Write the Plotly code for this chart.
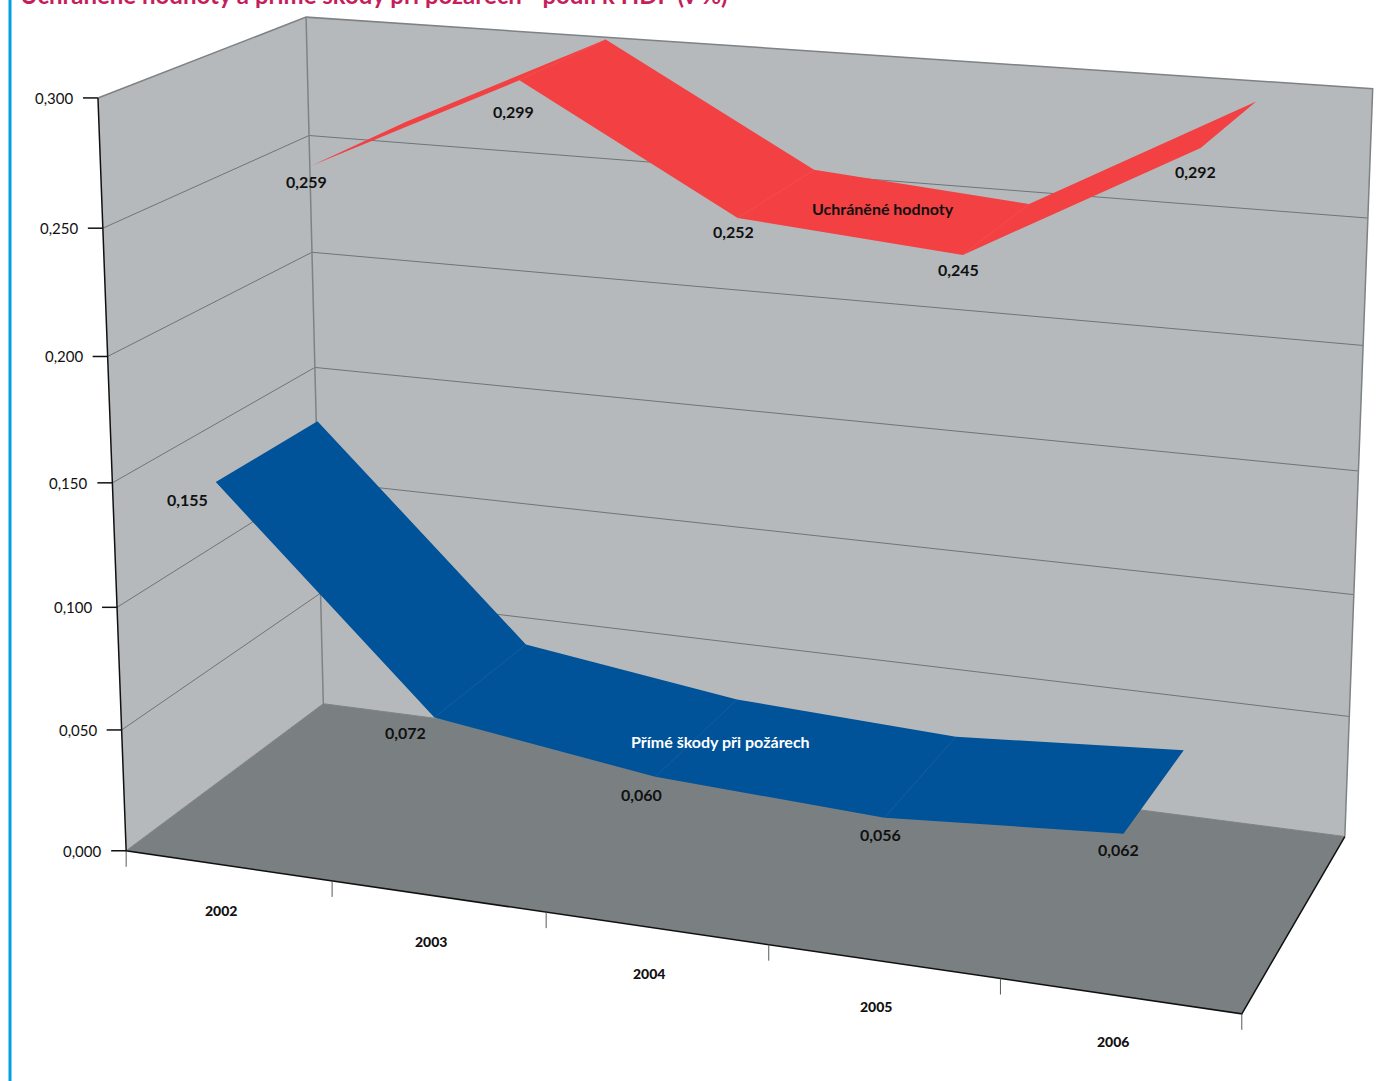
import numpy as np
import plotly.graph_objects as go

# ---- data
years = ["2002", "2003", "2004", "2005", "2006"]
saved = [0.259, 0.299, 0.252, 0.245, 0.292]
damage = [0.155, 0.072, 0.060, 0.056, 0.062]
z_ticks = [0.0, 0.05, 0.10, 0.15, 0.20, 0.25, 0.30]
saved_name = "Uchráněné hodnoty"
damage_name = "Přímé škody při požárech"
title = "Uchráněné hodnoty a přímé škody při požárech - podíl k HDP (v %)"

# ---- style: label offsets (px) from the front edge of each ribbon point
saved_shift = [(-5, 16), (-6, 31), (-4, 14), (-4, 15), (-5, 23)]
damage_shift = [(-28, 17), (-29, 15), (-14, 18), (-4, 17), (-5, 16)]

W, H = 1391, 1081
WALL, FLOOR, GRID, EDGE = "#b5b9bc", "#7a8082", "#6f7477", "#7d8285"
BLUE, RED, PINK, CYAN = "#005299", "#f24043", "#c41f5c", "#009fe3"
BLUE_SEAM, RED_SEAM = "#2a6aa6", "#f45a5c"
FONT = "Lato"

# ---- the chart's perspective camera, used to project (category, depth, value)
EYE = np.array([1.1508, -3.1835, 1.0215])
YAW, PITCH, ROLL = -0.3569, -0.2371, -0.0023
ASPECT_Y, ASPECT_Z = 0.4015, 0.676
FOCAL, CX, CY = 4084.372, 697.92, 248.08
Z_MAX, N = 0.3, len(years)
DEPTH_DAMAGE = (-0.0019, 0.4957)
DEPTH_SAVED = (0.4998, 1.001)

fw = np.array([np.sin(YAW) * np.cos(PITCH), np.cos(YAW) * np.cos(PITCH), np.sin(PITCH)])
r0 = np.cross(fw, [0, 0, 1.0]); r0 /= np.linalg.norm(r0)
u0 = np.cross(r0, fw)
right = np.cos(ROLL) * r0 + np.sin(ROLL) * u0
up = -np.sin(ROLL) * r0 + np.cos(ROLL) * u0


def P(cat, depth, val):
    w = np.array([cat / N - 0.5, (depth - 0.5) * ASPECT_Y, (val / Z_MAX - 0.5) * ASPECT_Z])
    d = w - EYE
    zc = d @ fw
    return CX + FOCAL * (d @ right) / zc, CY - FOCAL * (d @ up) / zc


def poly(points, color):
    xy = [P(*p) for p in points]
    return go.Scatter(x=[a for a, _ in xy], y=[b for _, b in xy], mode="lines", fill="toself",
                      fillcolor=color, line=dict(width=0), hoverinfo="skip")


def seg(points, color, width):
    xy = [P(*p) for p in points]
    return go.Scatter(x=[a for a, _ in xy], y=[b for _, b in xy], mode="lines",
                      line=dict(color=color, width=width), hoverinfo="skip")


def ribbon(vals, d0, d1, color):
    X, Y = [], []
    for i in range(N - 1):
        a, b = i + 0.5, i + 1.5
        for pt in [(a, d0, vals[i]), (b, d0, vals[i + 1]), (b, d1, vals[i + 1]), (a, d1, vals[i]), (a, d0, vals[i])]:
            px, py = P(*pt)
            X.append(px); Y.append(py)
        X.append(None); Y.append(None)
    return go.Scatter(x=X, y=Y, mode="lines", fill="toself", fillcolor=color, line=dict(width=0), hoverinfo="skip")


def seams(vals, d0, d1, color):
    return [seg([(i + 0.5, d0, vals[i]), (i + 0.5, d1, vals[i])], color, 0.5) for i in range(1, N - 1)]


traces = [
    poly([(0, 0, 0), (0, 1, 0), (0, 1, Z_MAX), (0, 0, Z_MAX)], WALL),
    poly([(0, 1, 0), (N, 1, 0), (N, 1, Z_MAX), (0, 1, Z_MAX)], WALL),
    poly([(0, 0, 0), (N, 0, 0), (N, 1, 0), (0, 1, 0)], FLOOR),
]
for z in z_ticks[1:-1]:
    traces.append(seg([(0, 0, z), (0, 1, z), (N, 1, z)], GRID, 1))
traces.append(seg([(0, 0, Z_MAX), (0, 1, Z_MAX), (N, 1, Z_MAX), (N, 1, 0)], EDGE, 1.5))
traces.append(seg([(0, 1, Z_MAX), (0, 1, 0)], EDGE, 1.5))
traces.append(seg([(0, 0, 0), (0, 1, 0), (N, 1, 0)], EDGE, 1))
traces.append(ribbon(damage, *DEPTH_DAMAGE, BLUE))
traces.append(ribbon(saved, *DEPTH_SAVED, RED))
traces += seams(damage, *DEPTH_DAMAGE, BLUE_SEAM)
traces += seams(saved, *DEPTH_SAVED, RED_SEAM)
traces.append(seg([(0, 0, Z_MAX), (0, 0, 0), (N, 0, 0), (N, 1, 0)], "#111111", 1.5))
for c in range(N + 1):
    x0, y0 = P(c, 0, 0)
    traces.append(go.Scatter(x=[x0, x0], y=[y0, y0 + 16], mode="lines", line=dict(color="#55595b", width=1), hoverinfo="skip"))
for z in z_ticks:
    x0, y0 = P(0, 0, z)
    traces.append(go.Scatter(x=[x0 - 15, x0], y=[y0, y0], mode="lines", line=dict(color="#111111", width=1.5), hoverinfo="skip"))

ann = []


def label(pos, text, dx=0, dy=0, size=16, weight=700, color="#111111", anchor="center"):
    ann.append(dict(x=pos[0], y=pos[1], xref="x", yref="y", text=text, showarrow=False, xshift=dx, yshift=-dy,
                    xanchor=anchor, yanchor="middle", font=dict(family=FONT, size=size, color=color, weight=weight)))


for i, v in enumerate(saved):
    label(P(i + 0.5, DEPTH_SAVED[0], v), f"{v:.3f}".replace(".", ","), *saved_shift[i])
for i, v in enumerate(damage):
    label(P(i + 0.5, DEPTH_DAMAGE[0], v), f"{v:.3f}".replace(".", ","), *damage_shift[i])
for i, y in enumerate(years):
    label(P(i + 0.5, 0, 0), y, -7, 45, size=14, weight=900)
for z in z_ticks:
    label(P(0, 0, z), f"{z:.3f}".replace(".", ","), -22, 0, size=15, weight=400, anchor="right")
label(P(3, 0.75, (saved[2] + saved[3]) / 2), saved_name, -3, -2, size=16)
label(P(2.5, 0.25, damage[2]), damage_name, 23, 5, size=16, color="white")
ann.append(dict(x=18, y=11, xref="x", yref="y", text=title, showarrow=False, xanchor="left", yanchor="bottom",
                font=dict(family=FONT, size=24, color=PINK, weight=700)))

fig = go.Figure(traces)
fig.update_layout(
    width=W, height=H, margin=dict(l=0, r=0, t=0, b=0), paper_bgcolor="white", plot_bgcolor="white", showlegend=False,
    xaxis=dict(range=[0, W], visible=False, fixedrange=True),
    yaxis=dict(range=[H, 0], visible=False, fixedrange=True),
    annotations=ann,
    shapes=[dict(type="line", xref="paper", yref="paper", x0=10 / W, x1=10 / W, y0=0, y1=1, line=dict(color=CYAN, width=3))],
)
fig.write_html("out.html", config={"displayModeBar": False}, post_script="document.body.style.margin='0';")
